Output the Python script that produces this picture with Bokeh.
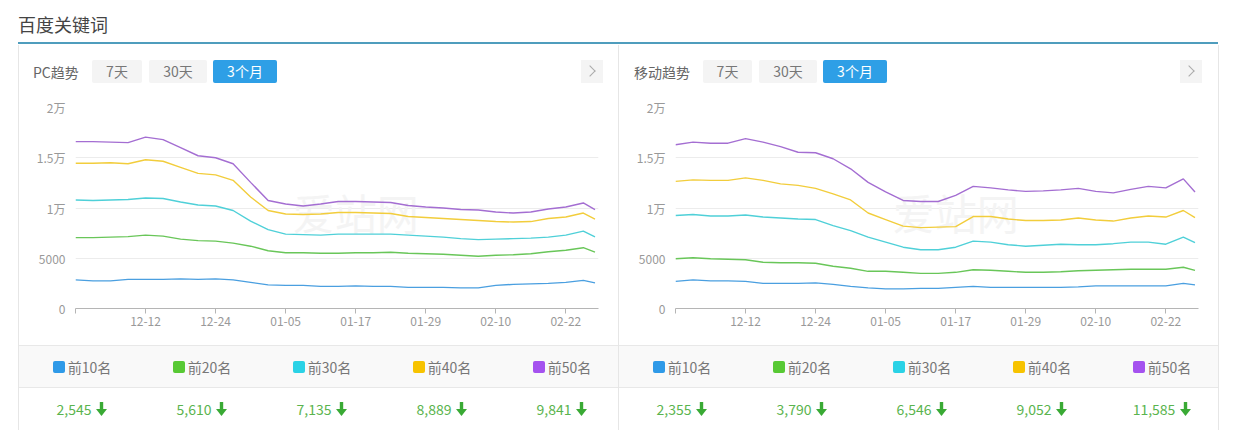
import pandas as pd
from bokeh.plotting import figure
from bokeh.models import Div, Spacer, Range1d, FixedTicker, Label
from bokeh.layouts import column, row
from bokeh.embed import file_html
from bokeh.resources import INLINE

# ---------------- data ----------------
dates = ["11-30", "12-03", "12-06", "12-09", "12-12", "12-15", "12-18", "12-21", "12-24", "12-27",
         "12-30", "01-02", "01-05", "01-08", "01-11", "01-14", "01-17", "01-20", "01-23", "01-26",
         "01-29", "02-01", "02-04", "02-07", "02-10", "02-13", "02-16", "02-19", "02-22", "02-25", "02-27"]

series_names = ["前10名", "前20名", "前30名", "前40名", "前50名"]

pc_top10 = [2850, 2750, 2750, 2900, 2900, 2900, 2950, 2900, 2950, 2850, 2600, 2350, 2300, 2300, 2200, 2200,
            2250, 2200, 2200, 2100, 2100, 2100, 2050, 2050, 2300, 2400, 2450, 2500, 2600, 2800, 2545]
pc_top20 = [7050, 7050, 7100, 7150, 7300, 7200, 6900, 6750, 6700, 6500, 6200, 5750, 5550, 5550, 5500, 5500,
            5550, 5550, 5600, 5500, 5450, 5400, 5300, 5200, 5300, 5350, 5450, 5650, 5800, 6050, 5610]
pc_top30 = [10800, 10750, 10800, 10850, 11000, 10950, 10600, 10300, 10200, 9750, 8700, 7850, 7400, 7350, 7300, 7400,
            7400, 7400, 7400, 7300, 7200, 7100, 6950, 6850, 6900, 6950, 7000, 7100, 7300, 7700, 7135]
pc_top40 = [14450, 14450, 14500, 14400, 14800, 14650, 14050, 13450, 13300, 12750, 11100, 9750, 9400, 9350, 9400, 9550,
            9550, 9500, 9450, 9150, 9050, 8950, 8850, 8750, 8650, 8600, 8650, 8950, 9100, 9500, 8889]
pc_top50 = [16600, 16600, 16550, 16500, 17050, 16800, 16000, 15200, 15000, 14400, 12550, 10750, 10400, 10200, 10400, 10650,
            10650, 10600, 10550, 10250, 10100, 10000, 9850, 9800, 9600, 9500, 9600, 9900, 10100, 10500, 9841]

m_top10 = [2700, 2850, 2750, 2750, 2700, 2500, 2500, 2500, 2550, 2400, 2200, 2050, 1950, 1950, 2000, 2000,
           2100, 2200, 2100, 2100, 2100, 2100, 2100, 2150, 2250, 2250, 2250, 2250, 2250, 2500, 2355]
m_top20 = [4950, 5050, 4950, 4900, 4850, 4600, 4550, 4550, 4500, 4200, 4000, 3700, 3700, 3600, 3500, 3500,
           3600, 3850, 3800, 3700, 3600, 3600, 3650, 3750, 3800, 3850, 3900, 3900, 3900, 4100, 3790]
m_top30 = [9250, 9350, 9200, 9200, 9300, 9100, 9000, 8900, 8850, 8250, 7750, 7100, 6600, 6100, 5850, 5850,
           6100, 6700, 6600, 6350, 6200, 6300, 6400, 6350, 6350, 6450, 6600, 6600, 6400, 7100, 6546]
m_top40 = [12650, 12800, 12750, 12750, 13000, 12750, 12400, 12250, 11950, 11400, 10800, 9500, 8850, 8200, 8050, 8100,
           8150, 9150, 9150, 8900, 8750, 8750, 8800, 9000, 8800, 8700, 9000, 9200, 9100, 9750, 9052]
m_top50 = [16300, 16550, 16450, 16450, 16900, 16550, 16100, 15550, 15500, 14900, 13900, 12550, 11600, 10750, 10650, 10650,
           11250, 12150, 12000, 11800, 11650, 11700, 11800, 11950, 11650, 11500, 11850, 12150, 12000, 12900, 11585]

pc_series = [pc_top10, pc_top20, pc_top30, pc_top40, pc_top50]
m_series = [m_top10, m_top20, m_top30, m_top40, m_top50]

x_tick_dates = ["11-30", "12-12", "12-24", "01-05", "01-17", "01-29", "02-10", "02-22"]
y_ticks = [0, 5000, 10000, 15000, 20000]
y_tick_labels = ["0", "5000", "1万", "1.5万", "2万"]

line_colors = ["#4a9fe0", "#69c659", "#4fd0d8", "#f2cd3c", "#a46ed2"]
legend_colors = ["#2f9ae8", "#58c934", "#2bd2e6", "#f7c300", "#a552ef"]

FONT = "Noto Sans CJK SC"


def to_day(md):
    m, d = md.split("-")
    year = 2018 if int(m) >= 11 else 2019
    return (pd.Timestamp(year=year, month=int(m), day=int(d)) - pd.Timestamp(2018, 11, 30)).days


xs = [to_day(d) for d in dates]
x_ticks = [to_day(d) for d in x_tick_dates]
x_overrides = {t: (lab if i > 0 else "") for i, (t, lab) in enumerate(zip(x_ticks, x_tick_dates))}


def make_chart(series):
    p = figure(width=599, height=255, x_range=Range1d(0, 89.6), y_range=Range1d(0, 20000),
               output_backend="svg", toolbar_location=None,
               min_border_left=56, min_border_right=20, min_border_top=17, min_border_bottom=37,
               outline_line_color=None, background_fill_color="white", border_fill_color="white")
    p.toolbar.logo = None
    wm = Label(x=37.2, y=9650, text="爱站网", text_font=FONT, text_font_size="42px",
               text_color="#f4f4f4", text_baseline="middle", level="underlay")
    p.add_layout(wm)
    for vals, c in zip(series, line_colors):
        p.line(xs, vals, line_color=c, line_width=1.4)
    p.yaxis.ticker = FixedTicker(ticks=y_ticks)
    p.yaxis.major_label_overrides = dict(zip(y_ticks, y_tick_labels))
    p.yaxis.axis_line_color = None
    p.yaxis.major_tick_line_color = None
    p.yaxis.minor_tick_line_color = None
    p.yaxis.major_tick_out = 0
    p.yaxis.major_tick_in = 0
    p.yaxis.major_label_standoff = 10
    p.xaxis.ticker = FixedTicker(ticks=x_ticks)
    p.xaxis.major_label_overrides = x_overrides
    p.xaxis.axis_line_color = "#b5b5b5"
    p.xaxis.major_tick_line_color = "#b5b5b5"
    p.xaxis.minor_tick_line_color = None
    p.xaxis.major_tick_out = 5
    p.xaxis.major_tick_in = 0
    p.xaxis.major_label_standoff = 3
    for ax in (p.xaxis, p.yaxis):
        ax.major_label_text_font = FONT
        ax.major_label_text_font_size = "12px"
        ax.major_label_text_color = "#999999"
    p.xgrid.grid_line_color = None
    p.ygrid.grid_line_color = "#ececec"
    return p


def header(title, left_title, btn_lefts, btn_widths, chev_left):
    labels = ["7天", "30天", "3个月"]
    html = [f'<div style="position:relative;width:599px;height:45px;font-family:\'{FONT}\';">']
    html.append(f'<span style="position:absolute;left:{left_title}px;top:16px;font-size:14px;line-height:22px;color:#666;">{title}</span>')
    for i, (lab, l, w) in enumerate(zip(labels, btn_lefts, btn_widths)):
        bg = "#2e9fe6" if i == 2 else "#f4f4f4"
        fg = "#ffffff" if i == 2 else "#777777"
        html.append(f'<span style="position:absolute;left:{l}px;top:15px;width:{w}px;height:23px;line-height:23px;'
                    f'text-align:center;font-size:14px;background:{bg};color:{fg};border-radius:2px;">{lab}</span>')
    html.append(f'<span style="position:absolute;left:{chev_left}px;top:15px;width:22px;height:23px;background:#f4f4f4;"></span>')
    html.append(f'<span style="position:absolute;left:{chev_left + 5}px;top:22px;width:8px;height:8px;'
                f'border-top:1px solid #aaa;border-right:1px solid #aaa;transform:rotate(45deg);"></span>')
    html.append('</div>')
    return Div(text="".join(html), width=599, height=45, margin=0)


def legend_div():
    items = []
    for name, c in zip(series_names, legend_colors):
        items.append(f'<div style="flex:0 0 120px;display:flex;align-items:center;justify-content:center;">'
                     f'<span style="display:inline-block;width:12px;height:12px;border-radius:2px;background:{c};margin-right:3px;"></span>'
                     f'<span>{name}</span></div>')
    html = (f'<div style="display:flex;box-sizing:border-box;width:599px;height:43px;padding-left:3px;overflow:hidden;'
            f'background:#f9f9f9;border-top:1px solid #e8e8e8;border-bottom:1px solid #e8e8e8;'
            f'font-family:\'{FONT}\';font-size:14px;color:#777;">' + "".join(items) + '</div>')
    return Div(text=html, width=599, height=43, margin=0)


ARROW = ('<svg width="11" height="14" viewBox="0 0 11 14" style="margin-left:5px;vertical-align:middle;">'
         '<rect x="3.8" y="0" width="3.4" height="8" fill="#3aaa35"/>'
         '<polygon points="0,7 11,7 5.5,14" fill="#3aaa35"/></svg>')


def values_div(series):
    items = []
    for vals in series:
        items.append(f'<div style="flex:0 0 120px;display:flex;align-items:center;justify-content:center;">'
                     f'<span>{vals[-1]:,}</span>{ARROW}</div>')
    html = (f'<div style="display:flex;box-sizing:border-box;width:599px;height:42px;padding-left:3px;overflow:hidden;'
            f'font-family:\'{FONT}\';font-size:14px;color:#5ab44e;">' + "".join(items) + '</div>')
    return Div(text=html, width=599, height=42, margin=0)


def vline():
    return Div(text='<div style="width:1px;height:385px;background:#e6e6e6;"></div>', width=1, height=385, margin=0)


top = Div(text=(f'<div style="position:relative;width:1236px;height:45px;font-family:\'{FONT}\';">'
                f'<span style="position:absolute;left:18px;top:11px;font-size:18px;line-height:26px;color:#444;">百度关键词</span>'
                f'<div style="position:absolute;left:18px;top:42px;width:1200px;height:2px;background:#4f9dbd;"></div>'
                f'</div>'), width=1236, height=45, margin=0)

panel_l = column(header("PC趋势", 14, [73, 130, 194], [50, 58, 64], 562), make_chart(pc_series),
                 legend_div(), values_div(pc_series), width=599, height=385, spacing=0)
panel_r = column(header("移动趋势", 15, [84, 140, 204], [49, 58, 64], 561), make_chart(m_series),
                 legend_div(), values_div(m_series), width=599, height=385, spacing=0)

body = row(Spacer(width=18, height=385), vline(), panel_l, vline(), panel_r, vline(),
           Spacer(width=17, height=385), spacing=0)
page = column(top, body, spacing=0)

open("out.html", "w").write(file_html(page, INLINE))
